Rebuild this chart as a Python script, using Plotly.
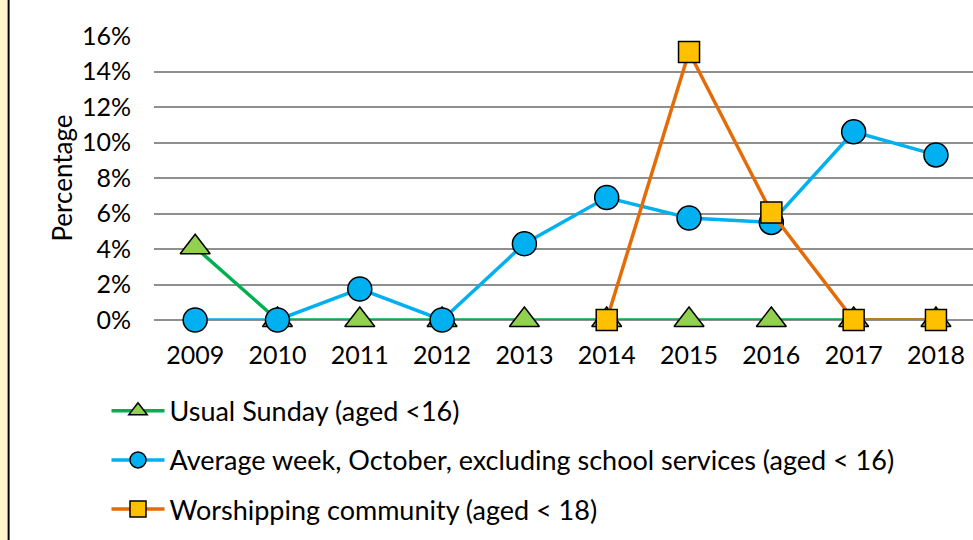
import plotly.graph_objects as go

years = ["2009", "2010", "2011", "2012", "2013", "2014", "2015", "2016", "2017", "2018"]
usual_sunday = [4.1, 0, 0, 0, 0, 0, 0, 0, 0, 0]
average_week = [0, 0, 1.75, 0, 4.3, 6.9, 5.75, 5.5, 10.6, 9.3]
worshipping = [None, None, None, None, None, 0, 15.1, 6.05, 0, 0]
y_ticks = [0, 2, 4, 6, 8, 10, 12, 14, 16]
y_tick_text = [f"{v}%" for v in y_ticks]

FONT = "Lato"

fig = go.Figure()
fig.add_trace(go.Scatter(
    x=years, y=usual_sunday, name="Usual Sunday (aged <16)",
    mode="lines+markers", legendgroup="a",
    line=dict(color="#00B050", width=3.5),
    marker=dict(symbol="triangle-up", size=26, color="#92D050", line=dict(color="black", width=1.5)),
    cliponaxis=False,
))
fig.add_trace(go.Scatter(
    x=years, y=average_week, name="Average week, October, excluding school services (aged < 16)",
    mode="lines+markers", legendgroup="b",
    line=dict(color="#00B0F0", width=3.5),
    marker=dict(symbol="circle", size=24, color="#00B0F0", line=dict(color="black", width=1.5)),
    cliponaxis=False,
))
fig.add_trace(go.Scatter(
    x=years, y=worshipping, name="Worshipping community (aged < 18)",
    mode="lines+markers", legendgroup="c",
    line=dict(color="#E36C09", width=3.5),
    marker=dict(symbol="square", size=21, color="#FFC000", line=dict(color="black", width=1.5)),
    cliponaxis=False,
))

fig.update_layout(
    width=973, height=540,
    margin=dict(l=154, r=0, t=36, b=220),
    paper_bgcolor="white", plot_bgcolor="white",
    font=dict(family=FONT, size=25, color="black"),
    showlegend=True,
    legend=dict(
        x=-0.058, xanchor="left", y=-0.235, yanchor="top",
        font=dict(size=27), tracegroupgap=11, itemwidth=53,
        traceorder="grouped", bgcolor="rgba(0,0,0,0)",
    ),
    xaxis=dict(
        type="category", range=[-0.5, 9.45], showgrid=False, zeroline=False,
        showline=False, ticks="", ticklabelstandoff=18, tickfont=dict(size=25),
    ),
    yaxis=dict(
        range=[0, 16], tickvals=y_ticks, ticktext=y_tick_text,
        showgrid=True, gridcolor="#8F8F8F", gridwidth=1.5,
        zeroline=True, zerolinecolor="#8F8F8F", zerolinewidth=1.5,
        showline=False, ticks="", ticklabelstandoff=22, tickfont=dict(size=25),
        title=dict(text="Percentage", font=dict(size=26), standoff=1),
    ),
    shapes=[
        dict(type="rect", xref="paper", yref="paper", x0=-0.2, x1=-0.178, y0=-1, y1=1.2,
             fillcolor="#FFF6CC", line=dict(width=0), layer="below"),
        dict(type="line", xref="paper", yref="paper", x0=-0.1775, x1=-0.1775, y0=-1, y1=1.2,
             line=dict(color="black", width=2)),
    ],
)

fig.write_html("out.html", config={"displayModeBar": False},
               post_script="document.body.style.margin='0';")
